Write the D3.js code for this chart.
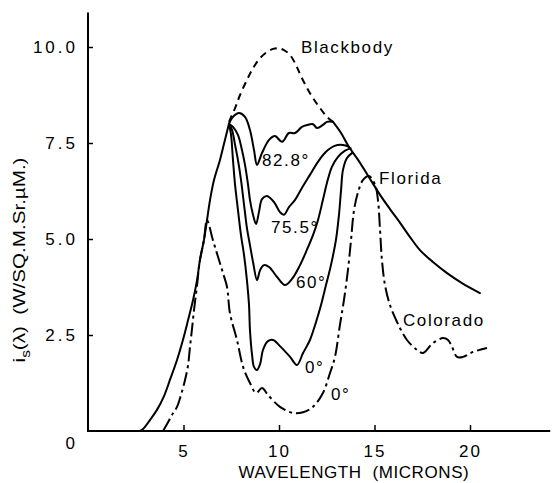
<!DOCTYPE html>
<html>
<head>
<meta charset="utf-8">
<script src="https://cdn.jsdelivr.net/npm/d3@7"></script>
<style>
  html, body { margin: 0; padding: 0; background: #fff; }
  svg { display: block; }
  text { font-family: "Liberation Sans", Arial, sans-serif; fill: #000; }
</style>
</head>
<body>
<svg id="chart" width="552" height="483"></svg>
<script>
// ---------- data (wavelength in microns, radiance in W/SQ.M.Sr.µM.) ----------
const xTicks = [5, 10, 15, 20];
const xTickLabels = ["5", "10", "15", "20"];
const yTicks = [0, 2.5, 5, 7.5, 10];
const yTickLabels = ["0", "2.5", "5.0", "7.5", "10.0"];

// common rising edge of the Florida curves
const floridaRise = [[2.72,0],[2.88,0.05],[3.25,0.29],[3.61,0.55],[3.98,0.91],[4.29,1.33],[4.66,1.85],[4.97,2.37],[5.24,2.89],[5.50,3.41],[5.71,3.93],[5.86,4.45],[6.07,4.97],[6.23,5.49],[6.39,6.02],[6.60,6.54],[6.91,7.06],[7.17,7.58],[7.38,8.0]];

const florida828 = [[7.38,8.0],[7.59,8.18],[7.91,8.28],[8.22,8.18],[8.48,7.84],[8.69,7.32],[8.85,6.93],[9.11,7.24],[9.48,7.58],[9.79,7.68],[10.16,7.53],[10.52,7.76],[10.84,7.76],[11.20,7.92],[11.47,7.97],[11.78,7.99],[11.99,7.89],[12.30,7.97],[12.51,8.05],[12.83,8.05]];

const florida755 = [[7.38,8.0],[7.59,7.92],[7.85,7.71],[8.06,7.32],[8.22,6.93],[8.38,6.41],[8.48,6.02],[8.64,5.63],[8.80,5.39],[8.95,5.70],[9.11,6.04],[9.37,6.12],[9.74,5.96],[10.05,5.70],[10.26,5.63],[10.52,5.83],[10.84,6.02],[11.20,6.33],[11.62,6.67],[12.04,7.01],[12.46,7.27],[12.88,7.42],[13.35,7.45],[13.66,7.40]];

const florida60 = [[7.38,8.0],[7.54,7.84],[7.70,7.45],[7.85,7.06],[8.01,6.54],[8.17,5.89],[8.32,5.29],[8.48,4.84],[8.64,4.40],[8.85,3.93],[9.01,4.19],[9.21,4.32],[9.48,4.27],[9.90,4.01],[10.31,3.80],[10.68,3.96],[11.10,4.32],[11.41,4.66],[11.78,5.10],[12.04,5.49],[12.30,6.02],[12.51,6.46],[12.77,6.88],[13.09,7.14],[13.46,7.30],[13.75,7.36]];

const florida0 = [[7.38,8.0],[7.49,7.71],[7.59,7.06],[7.70,6.41],[7.85,5.76],[8.01,5.10],[8.17,4.58],[8.32,3.93],[8.43,3.28],[8.48,2.63],[8.59,1.98],[8.69,1.67],[8.85,1.59],[9.01,1.74],[9.16,2.11],[9.42,2.34],[9.69,2.37],[10.05,2.21],[10.58,1.93],[10.94,1.72],[11.26,2.03],[11.62,2.37],[11.94,2.84],[12.20,3.28],[12.46,3.80],[12.72,4.32],[12.98,4.97],[13.14,5.63],[13.25,6.28],[13.35,6.80],[13.56,7.11],[13.85,7.25]];

// long-wave edge shared by the curves (follows the blackbody)
const floridaEnvelope = [[12.83,8.05],[13.25,7.76],[13.66,7.40],[14.14,7.06],[14.71,6.61],[15.29,6.15],[15.81,5.78],[16.34,5.42],[16.86,5.05],[17.38,4.71],[18.06,4.40],[18.80,4.11],[19.58,3.85],[20.52,3.59]];

const blackbody = [[7.38,8.05],[7.70,8.41],[7.96,8.75],[8.32,9.14],[8.64,9.45],[9.01,9.71],[9.37,9.87],[9.69,9.95],[9.95,9.97],[10.26,9.92],[10.58,9.79],[10.89,9.53],[11.15,9.24],[11.47,8.93],[11.78,8.67],[12.15,8.41],[12.51,8.18],[12.83,8.05]];

const colorado0 = [[3.93,0],[4.14,0.18],[4.40,0.42],[4.66,0.63],[4.87,0.94],[5.08,1.33],[5.24,1.72],[5.34,2.19],[5.45,2.68],[5.55,3.15],[5.71,3.80],[5.86,4.45],[6.07,4.97],[6.23,5.49],[6.54,4.97],[6.81,4.53],[7.07,4.11],[7.28,3.75],[7.43,3.07],[7.80,2.37],[8.12,1.67],[8.48,1.25],[8.80,0.99],[9.11,1.12],[9.42,0.94],[10.05,0.63],[10.73,0.47],[11.26,0.49],[11.78,0.63],[12.30,0.99],[12.67,1.51],[12.93,1.93],[13.19,2.76],[13.40,3.41],[13.61,4.19],[13.77,4.97],[13.93,5.76],[14.14,6.22],[14.40,6.54],[14.71,6.64],[15.03,6.41],[15.18,6.02],[15.29,5.23],[15.39,4.45],[15.55,3.80],[15.81,3.28],[16.18,2.84],[16.70,2.37],[17.23,2.11],[17.54,2.03],[18.06,2.29],[18.59,2.42],[18.85,2.37],[19.06,2.19],[19.32,1.93],[19.63,1.93],[20.16,2.06],[20.89,2.16]];

const labelTexts = ["Blackbody", "82.8°", "75.5°", "60°", "0°", "0°", "Florida", "Colorado"];
const labelX = [11.15, 9.11, 9.58, 10.89, 11.36, 12.72, 15.24, 16.49];
const labelY = [9.84, 6.90, 5.16, 3.72, 1.51, 0.81, 6.43, 2.73];

// ---------- scales ----------
const svg = d3.select("#chart");
const x = d3.scaleLinear().domain([0, 20]).range([88, 470]);
const y = d3.scaleLinear().domain([0, 10]).range([431, 47]);
const xMax = 24.2, yMax = 10.9;

// ---------- axes ----------
const axisG = svg.append("g");
axisG.append("line")
  .attr("x1", x(0)).attr("x2", x(0)).attr("y1", y(0) + 1).attr("y2", y(yMax))
  .attr("stroke", "#000").attr("stroke-width", 2);
axisG.append("line")
  .attr("x1", x(0) - 1).attr("x2", x(xMax)).attr("y1", y(0)).attr("y2", y(0))
  .attr("stroke", "#000").attr("stroke-width", 2);

const xAxis = d3.axisBottom(x).tickValues(xTicks)
  .tickFormat((d, i) => xTickLabels[i]).tickSizeInner(-6).tickSizeOuter(0).tickPadding(14);
const gx = svg.append("g").attr("transform", `translate(0,${y(0)})`).call(xAxis);
gx.select(".domain").remove();
gx.selectAll(".tick line").attr("stroke", "#000").attr("stroke-width", 1.5);
gx.selectAll(".tick text").attr("font-size", 17).attr("letter-spacing", 2)
  .attr("font-family", "Liberation Sans, Arial, sans-serif").attr("fill", "#000");

const yAxis = d3.axisLeft(y).tickValues(yTicks)
  .tickFormat((d, i) => yTickLabels[i]).tickSizeInner(-5).tickSizeOuter(0).tickPadding(10);
const gy = svg.append("g").attr("transform", `translate(${x(0)},0)`).call(yAxis);
gy.select(".domain").remove();
gy.selectAll(".tick line").attr("stroke", "#000").attr("stroke-width", 1.5)
  .filter(d => d === 0).remove();
gy.selectAll(".tick text").attr("font-size", 17).attr("letter-spacing", 3)
  .attr("font-family", "Liberation Sans, Arial, sans-serif").attr("fill", "#000")
  .attr("dy", d => d === 0 ? "1.05em" : "0.35em");

// ---------- curves ----------
const line = d3.line().x(d => x(d[0])).y(d => y(d[1])).curve(d3.curveCatmullRom.alpha(0.5));
const solid = [floridaRise, florida828, florida755, florida60, florida0, floridaEnvelope];
svg.append("g").selectAll("path").data(solid).join("path")
  .attr("d", line).attr("fill", "none").attr("stroke", "#000")
  .attr("stroke-width", 2).attr("stroke-linejoin", "round").attr("stroke-linecap", "round");

svg.append("path").datum(blackbody).attr("d", line)
  .attr("fill", "none").attr("stroke", "#000").attr("stroke-width", 2)
  .attr("stroke-dasharray", "7,5");

svg.append("path").datum(colorado0).attr("d", line)
  .attr("fill", "none").attr("stroke", "#000").attr("stroke-width", 2)
  .attr("stroke-dasharray", "14,4,3,4");

// ---------- labels ----------
svg.append("g").selectAll("text").data(labelTexts).join("text")
  .attr("x", (d, i) => x(labelX[i])).attr("y", (d, i) => y(labelY[i]))
  .attr("font-size", 17).attr("letter-spacing", 1.6)
  .text(d => d);

// axis titles
svg.append("text")
  .attr("x", 354).attr("y", 478)
  .attr("text-anchor", "middle").attr("font-size", 17).attr("letter-spacing", 0.6)
  .attr("xml:space", "preserve")
  .text("WAVELENGTH  (MICRONS)");

// y title: centred near y=260, about 205 px long
const ytG = svg.append("g").attr("transform", "translate(25,260) rotate(-90)");
const yt = ytG.append("text")
  .attr("text-anchor", "middle").attr("font-size", 16)
  .attr("xml:space", "preserve");
yt.append("tspan").text("i");
yt.append("tspan").attr("font-size", 12).attr("dy", 5).text("s");
yt.append("tspan").attr("dy", -5).text("(λ)  (W/SQ.M.Sr.µM.)");
const len = yt.node().getComputedTextLength();
if (len > 0) yt.attr("transform", `scale(${205 / len},1)`);
</script>
</body>
</html>
